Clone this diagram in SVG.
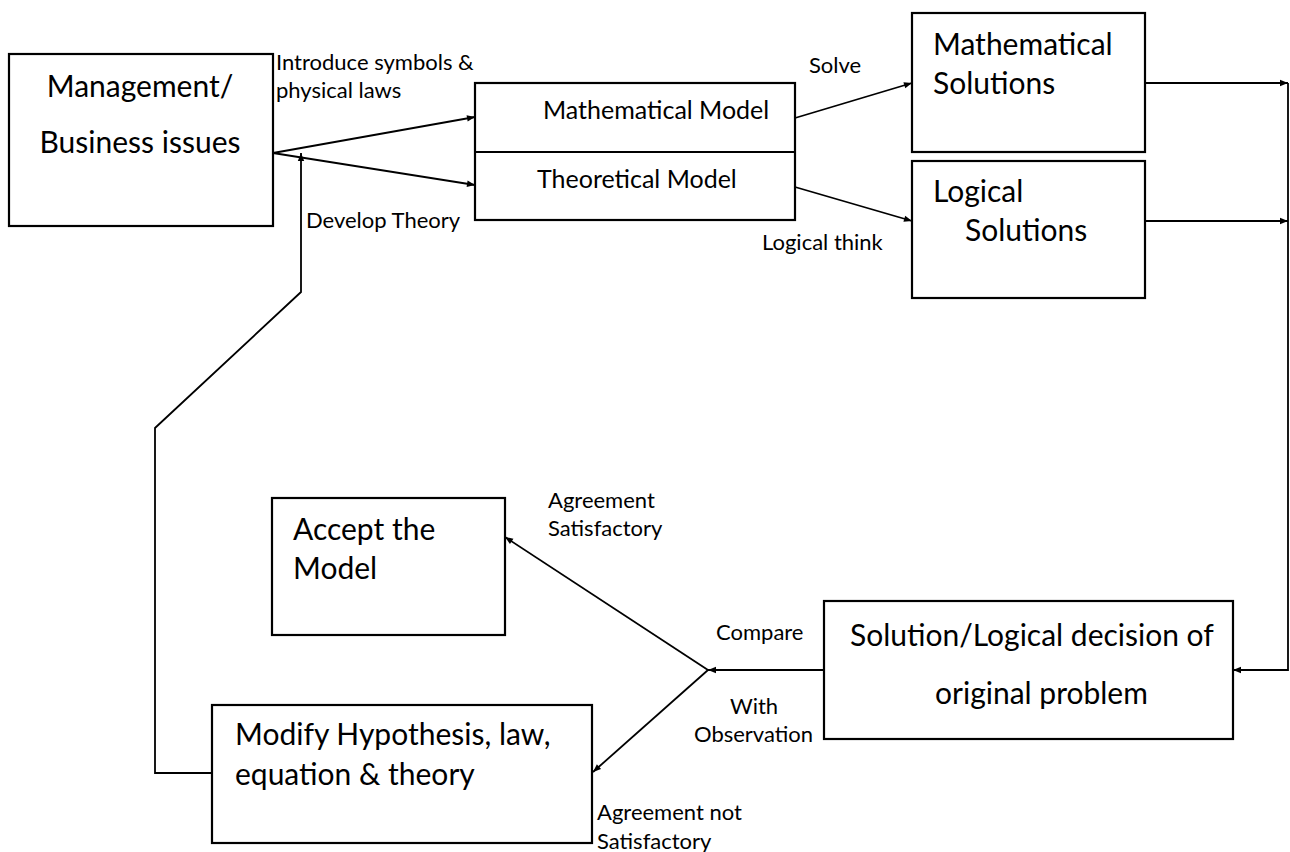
<svg xmlns="http://www.w3.org/2000/svg" width="1290" height="852" viewBox="0 0 1290 852">
<defs>
<marker id="ah" viewBox="0 0 10 10" refX="10" refY="5" markerWidth="9" markerHeight="8" markerUnits="userSpaceOnUse" orient="auto">
<path d="M0,1 L10,5 L0,9 z" fill="#000"/>
</marker>
</defs>
<style>
.box{fill:#fff;stroke:#000;stroke-width:2.2}
.big{font-family:Lato,"Open Sans",sans-serif;font-size:30px;fill:#000}
.mid{font-family:Lato,"Open Sans",sans-serif;font-size:25px;fill:#000}
.lbl{font-family:Lato,"Open Sans",sans-serif;font-size:22px;fill:#000}
.con{fill:none;stroke:#000;stroke-width:1.8}
.arr{marker-end:url(#ah)}
</style>
<g id="connectors">
<line class="con arr" x1="273" y1="153" x2="475" y2="117"/>
<line class="con arr" x1="273" y1="153" x2="475" y2="185"/>
<line class="con arr" x1="795" y1="118" x2="912" y2="83"/>
<line class="con arr" x1="795" y1="187" x2="912" y2="221"/>
<line class="con arr" x1="1145" y1="83" x2="1288" y2="83"/>
<line class="con arr" x1="1145" y1="221" x2="1288" y2="221"/>
<polyline class="con arr" points="1288,83 1288,670 1233,670"/>
<line class="con arr" x1="824" y1="670" x2="708" y2="670"/>
<line class="con arr" x1="708" y1="670" x2="505" y2="537"/>
<line class="con arr" x1="708" y1="670" x2="593" y2="772"/>
<polyline class="con arr" points="213,773 155,773 155,428 301,292 301,153"/>
</g>
<g id="labels">
<text class="lbl" x="276" y="70">Introduce symbols &amp;</text>
<text class="lbl" x="276" y="98">physical laws</text>
<text class="lbl" x="306" y="228">Develop Theory</text>
<text class="lbl" x="809" y="73">Solve</text>
<text class="lbl" x="762" y="250">Logical think</text>
<text class="lbl" x="548" y="508">Agreement</text>
<text class="lbl" x="548" y="536">Satisfactory</text>
<text class="lbl" x="716" y="640">Compare</text>
<text class="lbl" x="730" y="714">With</text>
<text class="lbl" x="694" y="742">Observation</text>
<text class="lbl" x="597" y="820">Agreement not</text>
<text class="lbl" x="597" y="849">Satisfactory</text>
</g>
<g id="management">
<rect class="box" x="9" y="54" width="264" height="172"/>
<text class="big" x="140" y="97" text-anchor="middle">Management/</text>
<text class="big" x="140" y="153" text-anchor="middle">Business issues</text>
</g>
<g id="model">
<rect class="box" x="475" y="83" width="320" height="137"/>
<line x1="475" y1="152" x2="795" y2="152" stroke="#000" stroke-width="2.2"/>
<text class="mid" x="543" y="119">Mathematical Model</text>
<text class="mid" x="537" y="188">Theoretical Model</text>
</g>
<g id="math-solutions">
<rect class="box" x="912" y="13" width="233" height="139"/>
<text class="big" x="933" y="55">Mathematical</text>
<text class="big" x="933" y="94">Solutions</text>
</g>
<g id="logical-solutions">
<rect class="box" x="912" y="161" width="233" height="137"/>
<text class="big" x="933" y="202">Logical</text>
<text class="big" x="965" y="241">Solutions</text>
</g>
<g id="solution-decision">
<rect class="box" x="824" y="601" width="409" height="138"/>
<text class="big" x="850" y="646">Solution/Logical decision of</text>
<text class="big" x="935" y="704">original problem</text>
</g>
<g id="accept">
<rect class="box" x="272" y="498" width="233" height="137"/>
<text class="big" x="293" y="540">Accept the</text>
<text class="big" x="293" y="579">Model</text>
</g>
<g id="modify">
<rect class="box" x="212" y="705" width="380" height="138"/>
<text class="big" x="235" y="745">Modify Hypothesis, law,</text>
<text class="big" x="235" y="785">equation &amp; theory</text>
</g>
</svg>
